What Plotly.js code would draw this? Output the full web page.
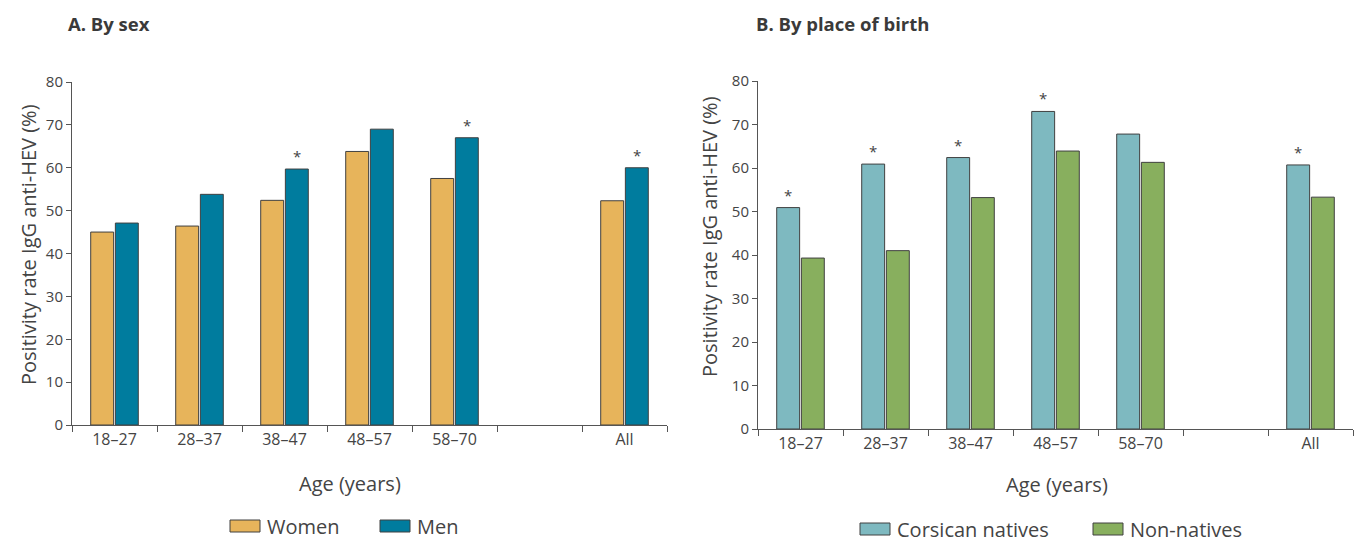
<!DOCTYPE html>
<html><head><meta charset="utf-8">
<script src="https://cdn.plot.ly/plotly-3.0.1.min.js"></script>
<style>body{margin:0;background:#fff}#chart{width:1357px;height:543px}</style>
</head><body><div id="chart"></div>
<script>
// ---- data ----
const ageGroups = ['18–27', '28–37', '38–47', '48–57', '58–70', ' ', 'All'];
const women = [45.0, 46.4, 52.4, 63.8, 57.5, null, 52.3];
const men = [47.1, 53.8, 59.7, 69.0, 67.0, null, 60.0];
const corsican = [50.9, 60.9, 62.4, 73.0, 67.8, null, 60.7];
const nonNatives = [39.3, 41.0, 53.2, 63.9, 61.3, null, 53.3];
const menSignificant = [false, false, true, false, true, false, true];
const corsicanSignificant = [true, true, true, true, false, false, true];
const panelTitles = ['A. By sex', 'B. By place of birth'];
const seriesNamesA = ['Women', 'Men'];
const seriesNamesB = ['Corsican natives', 'Non-natives'];
const yTitle = 'Positivity rate IgG anti-HEV (%)';
const xTitle = 'Age (years)';
const yTicks = [0, 10, 20, 30, 40, 50, 60, 70, 80];

// ---- styles ----
const W = 1357, H = 543;
const px = x => x / W, py = y => 1 - y / H;
const cWomen = '#E7B45B', cMen = '#007C9E', cCors = '#7EB9C0', cNon = '#88AF5E';
const edge = '#404040';
const txt = '#444444';
const FONT = 'Open Sans, Noto Sans, sans-serif';
const BARGAP = 0.42;
const off = (1 - BARGAP) / 4;

function bar(name, y, color, xa, ya) {
  return {type: 'bar', name: name, x: ageGroups, y: y, xaxis: xa, yaxis: ya,
    marker: {color: color, line: {color: edge, width: 1}}, showlegend: false,
    hoverinfo: 'x+y+name'};
}
const data = [
  bar(seriesNamesA[0], women, cWomen, 'x', 'y'),
  bar(seriesNamesA[1], men, cMen, 'x', 'y'),
  bar(seriesNamesB[0], corsican, cCors, 'x2', 'y2'),
  bar(seriesNamesB[1], nonNatives, cNon, 'x2', 'y2')
];

function xax(domain) {
  return {domain: domain, type: 'category', categoryorder: 'array', categoryarray: ageGroups,
    range: [-0.5, ageGroups.length - 0.5], tickson: 'boundaries', ticks: 'outside', ticklen: 6,
    tickcolor: '#555', tickwidth: 1, showline: true, linecolor: '#555', linewidth: 1,
    showgrid: false, zeroline: false, fixedrange: true,
    tickfont: {family: FONT, size: 16, color: txt}};
}
function yax(domain, anchor) {
  return {domain: domain, anchor: anchor, range: [0, 80], tickvals: yTicks, ticks: 'outside',
    ticklen: 5, tickcolor: '#555', showline: true, linecolor: '#555', linewidth: 1,
    showgrid: false, zeroline: false, fixedrange: true,
    tickfont: {family: FONT, size: 15, color: txt}};
}

const annotations = [];
const star = (xref, yref, i, dx, v) => annotations.push({xref: xref, yref: yref, x: i + dx, y: v,
  text: '*', showarrow: false, yanchor: 'bottom', xanchor: 'center', yshift: 1,
  font: {family: FONT, size: 15, color: txt}});
menSignificant.forEach((s, i) => { if (s) star('x', 'y', i, off, men[i]); });
corsicanSignificant.forEach((s, i) => { if (s) star('x2', 'y2', i, -off, corsican[i]); });

function txtAnn(x, y, text, opts) {
  annotations.push(Object.assign({xref: 'paper', yref: 'paper', x: px(x), y: py(y), text: text,
    showarrow: false, xanchor: 'center', yanchor: 'middle',
    font: {family: FONT, size: 20, color: txt}}, opts || {}));
}
// panel titles
const tFont = {family: FONT, size: 18.5, color: '#3a3a3a'};
txtAnn(66, 23, '<b>' + panelTitles[0] + '</b>', {xanchor: 'left', font: tFont});
txtAnn(754, 23, '<b>' + panelTitles[1] + '</b>', {xanchor: 'left', font: tFont});
// axis titles
txtAnn(350, 483, xTitle);
txtAnn(1057, 484, xTitle);
txtAnn(28, 245, yTitle, {textangle: -90});
txtAnn(709, 237, yTitle, {textangle: -90});

// legends
const shapes = [];
function legendItem(x0, yc, color, label) {
  shapes.push({type: 'rect', xref: 'paper', yref: 'paper', x0: px(x0), x1: px(x0 + 30),
    y0: py(yc + 6), y1: py(yc - 6), fillcolor: color, line: {color: edge, width: 1}});
  txtAnn(x0 + 35, yc, label, {xanchor: 'left'});
}
legendItem(230, 526, cWomen, seriesNamesA[0]);
legendItem(380, 526, cMen, seriesNamesA[1]);
legendItem(860, 529, cCors, seriesNamesB[0]);
legendItem(1093, 529, cNon, seriesNamesB[1]);

const layout = {
  width: W, height: H, margin: {l: 0, r: 0, t: 0, b: 0},
  paper_bgcolor: '#fff', plot_bgcolor: '#fff',
  barmode: 'group', bargap: BARGAP, bargroupgap: 0.07,
  xaxis: Object.assign(xax([px(72), px(667)]), {anchor: 'y'}),
  yaxis: yax([py(425), py(82)], 'x'),
  xaxis2: Object.assign(xax([px(758), px(1353)]), {anchor: 'y2'}),
  yaxis2: yax([py(429), py(81)], 'x2'),
  annotations: annotations, shapes: shapes, showlegend: false
};
Plotly.newPlot('chart', data, layout, {displayModeBar: false});
</script></body></html>
